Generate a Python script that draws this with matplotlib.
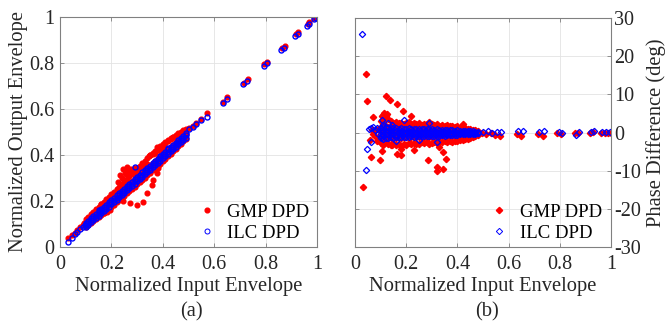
import numpy as np
import matplotlib.pyplot as plt

plt.rcParams['font.family'] = ['Liberation Serif', 'DejaVu Serif']

# ---------------- (a) AM/AM data ----------------
band_x = [0.10, 0.11, 0.12, 0.13, 0.14, 0.15, 0.16, 0.17, 0.18, 0.19,
          0.20, 0.21, 0.22, 0.23, 0.24, 0.25, 0.26, 0.27, 0.28, 0.29,
          0.30, 0.31, 0.32, 0.33, 0.34, 0.35, 0.36, 0.37, 0.38, 0.39,
          0.40, 0.41, 0.42, 0.43, 0.44, 0.45, 0.46, 0.47, 0.48, 0.49]

# GMP DPD (red)
gmp_low_x = [0.032, 0.045, 0.058, 0.068, 0.078, 0.088, 0.095]
gmp_low_y = [0.038, 0.052, 0.063, 0.074, 0.086, 0.095, 0.104]
gmp_up = [0.120, 0.131, 0.142, 0.154, 0.163, 0.176, 0.187, 0.196, 0.209, 0.219,
          0.231, 0.240, 0.252, 0.263, 0.274, 0.286, 0.297, 0.309, 0.319, 0.331,
          0.342, 0.353, 0.364, 0.375, 0.387, 0.398, 0.409, 0.419, 0.430, 0.439,
          0.448, 0.456, 0.465, 0.472, 0.480, 0.487, 0.494, 0.501, 0.507, 0.514]
gmp_mid = [0.104, 0.113, 0.124, 0.133, 0.144, 0.154, 0.162, 0.174, 0.183, 0.194,
           0.203, 0.214, 0.223, 0.235, 0.244, 0.255, 0.264, 0.276, 0.285, 0.295,
           0.306, 0.315, 0.327, 0.336, 0.347, 0.355, 0.367, 0.376, 0.387, 0.395,
           0.406, 0.414, 0.425, 0.435, 0.444, 0.455, 0.463, 0.474, 0.483, 0.493]
gmp_lo = [0.086, 0.094, 0.104, 0.112, 0.121, 0.129, 0.139, 0.147, 0.157, 0.165,
          0.175, 0.184, 0.194, 0.203, 0.213, 0.222, 0.233, 0.242, 0.253, 0.262,
          0.273, 0.282, 0.293, 0.302, 0.313, 0.322, 0.333, 0.343, 0.353, 0.363,
          0.373, 0.384, 0.395, 0.405, 0.416, 0.427, 0.437, 0.448, 0.459, 0.470]
gmp_out_x = [0.182, 0.195, 0.210, 0.227, 0.233, 0.246, 0.260, 0.275, 0.290, 0.305,
             0.318, 0.331, 0.246, 0.272, 0.298, 0.324, 0.340, 0.357, 0.363, 0.376,
             0.383, 0.360, 0.377, 0.395, 0.410, 0.430, 0.170, 0.160, 0.140, 0.252,
             0.268, 0.285, 0.345, 0.352, 0.240, 0.255, 0.265, 0.280, 0.295, 0.310,
             0.300, 0.315, 0.326, 0.337, 0.368, 0.388, 0.402, 0.420, 0.440]
gmp_out_y = [0.154, 0.163, 0.236, 0.284, 0.313, 0.340, 0.349, 0.337, 0.345, 0.341,
             0.355, 0.349, 0.201, 0.190, 0.183, 0.197, 0.233, 0.270, 0.291, 0.320,
             0.342, 0.405, 0.435, 0.432, 0.452, 0.470, 0.148, 0.188, 0.166, 0.322,
             0.328, 0.333, 0.395, 0.402, 0.300, 0.318, 0.332, 0.325, 0.332, 0.338,
             0.322, 0.346, 0.352, 0.362, 0.410, 0.418, 0.440, 0.462, 0.478]
gmp_hi_x = [0.503, 0.516, 0.530, 0.549, 0.571, 0.636, 0.651, 0.716, 0.730, 0.795,
            0.807, 0.862, 0.875, 0.918, 0.927, 0.964, 0.970, 0.988, 0.999]
gmp_hi_y = [0.517, 0.528, 0.541, 0.556, 0.581, 0.632, 0.651, 0.714, 0.729, 0.794,
            0.803, 0.864, 0.874, 0.926, 0.936, 0.970, 0.977, 0.994, 1.000]

# ILC DPD (blue)
ilc_low_x = [0.032, 0.045, 0.058, 0.068, 0.078, 0.088, 0.097]
ilc_low_y = [0.022, 0.040, 0.055, 0.066, 0.078, 0.087, 0.096]
ilc_up = [0.106, 0.115, 0.125, 0.135, 0.145, 0.154, 0.164, 0.174, 0.184, 0.194,
          0.204, 0.214, 0.224, 0.234, 0.244, 0.254, 0.264, 0.274, 0.284, 0.294,
          0.304, 0.314, 0.324, 0.334, 0.344, 0.354, 0.364, 0.374, 0.384, 0.394,
          0.404, 0.414, 0.424, 0.434, 0.444, 0.454, 0.464, 0.474, 0.484, 0.494]
ilc_mid = [0.097, 0.106, 0.116, 0.126, 0.136, 0.145, 0.155, 0.165, 0.175, 0.185,
           0.195, 0.205, 0.215, 0.225, 0.235, 0.245, 0.255, 0.265, 0.275, 0.285,
           0.295, 0.305, 0.315, 0.325, 0.335, 0.345, 0.355, 0.365, 0.375, 0.385,
           0.395, 0.405, 0.415, 0.425, 0.435, 0.445, 0.455, 0.465, 0.475, 0.485]
ilc_lo = [0.088, 0.097, 0.107, 0.116, 0.126, 0.136, 0.146, 0.156, 0.166, 0.176,
          0.186, 0.196, 0.206, 0.216, 0.226, 0.236, 0.246, 0.256, 0.266, 0.276,
          0.286, 0.296, 0.306, 0.316, 0.326, 0.336, 0.346, 0.356, 0.366, 0.376,
          0.386, 0.396, 0.406, 0.416, 0.426, 0.436, 0.446, 0.456, 0.466, 0.476]
ilc_out_x = [0.292, 0.150, 0.420]
ilc_out_y = [0.349, 0.160, 0.430]
ilc_hi_x = [0.503, 0.516, 0.529, 0.549, 0.571, 0.634, 0.649, 0.714, 0.728, 0.793,
            0.805, 0.860, 0.873, 0.916, 0.925, 0.962, 0.968, 0.987, 0.998]
ilc_hi_y = [0.512, 0.522, 0.535, 0.552, 0.565, 0.626, 0.644, 0.707, 0.722, 0.788,
            0.798, 0.857, 0.867, 0.917, 0.928, 0.963, 0.971, 0.990, 0.997]

# ---------------- (b) phase difference data ----------------
ph_x = [0.10, 0.11, 0.12, 0.13, 0.14, 0.15, 0.16, 0.17, 0.18, 0.19,
        0.20, 0.21, 0.22, 0.23, 0.24, 0.25, 0.26, 0.27, 0.28, 0.29,
        0.30, 0.31, 0.32, 0.33, 0.34, 0.35, 0.36, 0.37, 0.38, 0.39,
        0.40, 0.41, 0.42, 0.43, 0.44, 0.45, 0.46, 0.47, 0.48]
gmp_ph_top = [3.0, 4.6, 4.2, 3.5, 3.0, 2.6, 2.8, 2.4, 2.6, 2.2,
              2.5, 2.8, 2.3, 2.6, 2.2, 2.4, 2.0, 2.3, 2.1, 2.8,
              2.2, 1.9, 2.1, 1.8, 2.0, 1.7, 1.9, 1.6, 1.8, 1.5,
              1.6, 1.3, 2.2, 1.2, 1.0, 0.9, 0.7, 0.6, 0.4]
gmp_ph_up = [1.4, 2.2, 1.8, 1.5, 1.3, 1.2, 1.4, 1.1, 1.3, 1.0,
             1.2, 1.3, 1.0, 1.2, 1.1, 1.1, 0.9, 1.1, 1.0, 1.2,
             1.0, 0.9, 1.0, 0.8, 0.9, 0.8, 0.9, 0.7, 0.8, 0.7,
             0.7, 0.6, 0.8, 0.6, 0.5, 0.4, 0.3, 0.3, 0.2]
gmp_ph_mid = [0.1, 0.2, 0.0, 0.1, -0.1, 0.0, 0.1, 0.0, 0.1, -0.1,
              0.0, 0.1, 0.0, 0.0, 0.1, 0.0, -0.1, 0.0, 0.1, 0.0,
              0.0, 0.1, 0.0, -0.1, 0.0, 0.0, 0.1, 0.0, 0.0, -0.1,
              0.0, 0.0, 0.1, 0.0, 0.0, 0.0, 0.0, 0.0, 0.0]
gmp_ph_dn = [-1.2, -1.5, -1.4, -1.3, -1.4, -1.2, -1.5, -1.3, -1.4, -1.2,
             -1.3, -1.4, -1.2, -1.3, -1.2, -1.3, -1.1, -1.2, -1.3, -1.1,
             -1.2, -1.0, -1.1, -1.2, -1.0, -1.1, -1.0, -0.9, -1.0, -0.9,
             -0.9, -0.8, -0.9, -0.8, -0.7, -0.6, -0.5, -0.4, -0.3]
gmp_ph_bot = [-2.8, -3.2, -2.6, -3.0, -3.4, -2.7, -3.3, -2.9, -3.5, -3.0,
              -3.2, -2.8, -3.1, -2.7, -2.9, -3.0, -2.6, -2.8, -2.5, -2.9,
              -2.7, -2.4, -2.8, -2.5, -2.6, -2.3, -2.5, -2.2, -2.4, -2.1,
              -2.2, -1.9, -2.0, -1.8, -1.7, -1.5, -1.3, -1.0, -0.7]
gmp_ph_out_x = [0.030, 0.043, 0.046, 0.062, 0.072, 0.059, 0.085, 0.098, 0.107, 0.120,
                0.137, 0.163, 0.189, 0.217, 0.163, 0.179, 0.180, 0.143, 0.287, 0.319,
                0.322, 0.343, 0.345, 0.356, 0.075, 0.080, 0.090, 0.230, 0.330, 0.065,
                0.070, 0.092, 0.105, 0.112, 0.118, 0.125]
gmp_ph_out_y = [-14.4, 15.3, 8.2, -6.3, 4.1, -1.9, -2.3, -7.1, -4.9, 9.5,
                8.6, 7.5, 5.7, 4.2, -5.6, -6.0, -4.4, -3.2, -7.1, -9.0,
                -10.2, -9.6, -5.2, -6.9, 0.5, -0.8, 1.0, -4.5, -3.8, 0.6,
                -0.3, -1.4, 4.2, 5.1, 3.6, 4.8]
gmp_ph_hi_x = [0.495, 0.512, 0.530, 0.548, 0.566, 0.632, 0.650, 0.716, 0.735, 0.790,
               0.805, 0.860, 0.872, 0.918, 0.930, 0.960, 0.975, 0.990, 1.000]
gmp_ph_hi_y = [-0.1, -0.3, -0.2, -0.6, -0.8, -0.4, -0.9, -0.4, -0.8, -0.2,
               -0.3, -0.1, -0.2, -0.1, 0.1, -0.2, -0.1, -0.1, 0.0]

ilc_ph_up = [1.3, 1.5, 1.4, 1.2, 1.3, 1.1, 1.2, 1.0, 1.1, 1.0,
             1.0, 1.1, 0.9, 1.0, 0.9, 0.9, 0.8, 0.9, 0.8, 0.8,
             0.8, 0.7, 0.8, 0.7, 0.7, 0.6, 0.7, 0.6, 0.6, 0.5,
             0.6, 0.5, 0.5, 0.4, 0.4, 0.3, 0.3, 0.2, 0.2]
ilc_ph_mid = [0.4, 0.5, 0.4, 0.3, 0.4, 0.3, 0.3, 0.2, 0.3, 0.2,
              0.2, 0.3, 0.2, 0.2, 0.1, 0.2, 0.1, 0.2, 0.1, 0.1,
              0.1, 0.1, 0.1, 0.0, 0.1, 0.0, 0.1, 0.0, 0.0, 0.0,
              0.0, 0.0, 0.0, 0.0, 0.0, 0.0, 0.0, 0.0, 0.0]
ilc_ph_dn = [-0.5, -0.6, -0.5, -0.6, -0.5, -0.5, -0.6, -0.4, -0.5, -0.5,
             -0.4, -0.5, -0.4, -0.4, -0.5, -0.4, -0.4, -0.3, -0.4, -0.4,
             -0.3, -0.4, -0.3, -0.3, -0.3, -0.3, -0.2, -0.3, -0.2, -0.2,
             -0.2, -0.2, -0.2, -0.2, -0.1, -0.1, -0.1, -0.1, -0.1]
ilc_ph_bot = [-1.5, -1.6, -1.4, -1.5, -1.3, -1.4, -1.2, -1.3, -1.2, -1.1,
              -1.2, -1.1, -1.0, -1.1, -1.0, -1.0, -0.9, -1.0, -0.9, -0.9,
              -0.9, -0.8, -0.8, -0.8, -0.7, -0.8, -0.7, -0.7, -0.6, -0.6,
              -0.6, -0.5, -0.5, -0.5, -0.4, -0.4, -0.3, -0.3, -0.2]
ilc_ph_out_x = [0.029, 0.043, 0.046, 0.061, 0.055, 0.062, 0.070, 0.078, 0.085, 0.090,
                0.105, 0.110, 0.190, 0.290, 0.320, 0.160, 0.250, 0.100, 0.130, 0.145]
ilc_ph_out_y = [25.9, -9.9, -4.2, -2.6, 0.8, 1.2, 1.4, 0.6, 1.3, -0.5,
                3.3, 2.0, 3.2, 2.6, -2.6, -2.3, -2.0, -1.0, 2.4, 1.9]
ilc_ph_hi_x = [0.500, 0.518, 0.536, 0.555, 0.572, 0.638, 0.655, 0.720, 0.738, 0.795,
               0.808, 0.865, 0.875, 0.922, 0.935, 0.965, 0.980, 0.995]
ilc_ph_hi_y = [0.2, 0.3, 0.0, 0.1, 0.2, 0.3, 0.4, 0.2, 0.4, 0.1,
               -0.1, -0.6, 0.2, 0.1, 0.3, 0.1, 0.2, 0.1]

red = '#ff0000'
blue = '#0000ff'
grey = '#808080'
txt = '#262626'


def style(ax):
    ax.grid(True, color='#e3e3e3', lw=0.6)
    ax.set_axisbelow(True)
    for s in ax.spines.values():
        s.set_color(grey)
        s.set_linewidth(0.8)
    ax.tick_params(direction='in', length=3, width=0.6, color=grey,
                   labelsize=14.5, labelcolor=txt, top=True, right=True)
    ax.set_xlim(0, 1)
    ax.set_xticks([0, 0.2, 0.4, 0.6, 0.8, 1])
    ax.set_xticklabels(['0', '0.2', '0.4', '0.6', '0.8', '1'])
    ax.tick_params(axis='x', pad=6)
    ax.set_xlabel('Normalized Input Envelope', fontsize=14.8, color=txt, labelpad=2)


fig = plt.figure(figsize=(6.68, 3.25), dpi=100)

# ---- (a)
ax1 = fig.add_axes([60 / 668, 78 / 325, 257 / 668, 230 / 325])
style(ax1)
gx = gmp_low_x + band_x * 3 + gmp_out_x + gmp_hi_x
gy = gmp_low_y + gmp_up + gmp_mid + gmp_lo + gmp_out_y + gmp_hi_y
ix = ilc_low_x + band_x * 3 + ilc_out_x + ilc_hi_x
iy = ilc_low_y + ilc_up + ilc_mid + ilc_lo + ilc_out_y + ilc_hi_y
ax1.plot(gx, gy, 'o', color=red, ms=3.4, mec=red, ls='none', label='GMP DPD')
ax1.plot(ix, iy, 'o', mfc='none', mec=blue, ms=3.6, mew=1.0, ls='none', label='ILC DPD')
ax1.set_ylim(0, 1)
ax1.set_yticks([0, 0.2, 0.4, 0.6, 0.8, 1])
ax1.set_yticklabels(['0', '0.2', '0.4', '0.6', '0.8', '1'])
ax1.tick_params(axis='y', pad=4)
ax1.set_ylabel('Normalized Output Envelope', fontsize=14.8, color=txt, labelpad=1)
leg1 = ax1.legend(loc='lower right', frameon=False, fontsize=13.5, handletextpad=0.6,
                  borderaxespad=0.0, labelspacing=0.2, handlelength=1.0,
                  bbox_to_anchor=(1.0, -0.01))
leg1.legend_handles[1].set_markeredgewidth(0.7)
fig.text(191 / 668, 13 / 325, '(a)', ha='center', va='center', fontsize=14.8, color=txt)

# ---- (b)
ax2 = fig.add_axes([355 / 668, 78 / 325, 256 / 668, 229 / 325])
style(ax2)
px = ph_x * 5 + gmp_ph_out_x + gmp_ph_hi_x
py = gmp_ph_top + gmp_ph_up + gmp_ph_mid + gmp_ph_dn + gmp_ph_bot + gmp_ph_out_y + gmp_ph_hi_y
qx = ph_x * 4 + ilc_ph_out_x + ilc_ph_hi_x
qy = ilc_ph_up + ilc_ph_mid + ilc_ph_dn + ilc_ph_bot + ilc_ph_out_y + ilc_ph_hi_y
ax2.plot(px, py, 'D', color=red, mec=red, ms=3.2, ls='none', label='GMP DPD')
ax2.plot(qx, qy, 'D', mfc='none', mec=blue, ms=3.2, mew=0.9, ls='none', label='ILC DPD')
ax2.set_ylim(-30, 30)
ax2.set_yticks([-30, -20, -10, 0, 10, 20, 30])
ax2.set_yticklabels(['-30', '-20', '-10', '0', '10', '20', '30'])
ax2.yaxis.tick_right()
ax2.yaxis.set_label_position('right')
ax2.tick_params(axis='y', left=True, right=True, pad=2)
ax2.set_ylabel('Phase Difference (deg)', fontsize=14.8, color=txt, labelpad=4)
leg2 = ax2.legend(loc='lower right', frameon=False, fontsize=13.5, handletextpad=0.6,
                  borderaxespad=0.0, labelspacing=0.2, handlelength=1.0,
                  bbox_to_anchor=(0.995, -0.01))
leg2.legend_handles[1].set_markeredgewidth(0.7)
fig.text(487 / 668, 13 / 325, '(b)', ha='center', va='center', fontsize=14.8, color=txt)

fig.savefig('out.png', dpi=100)
